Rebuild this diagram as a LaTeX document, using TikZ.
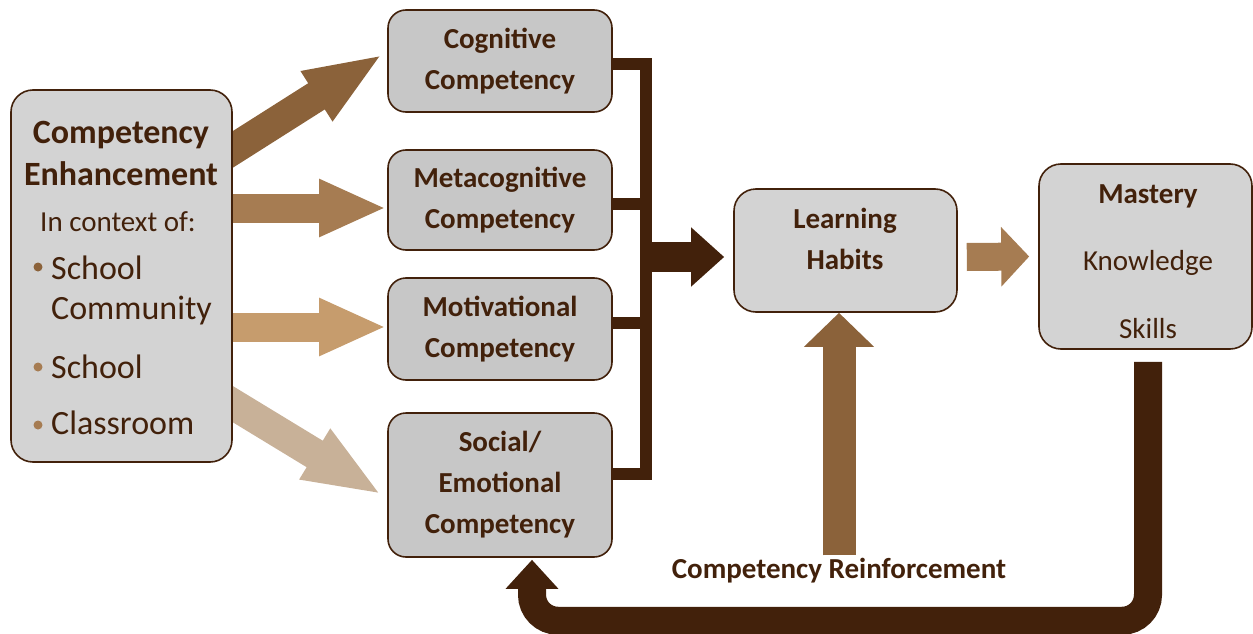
\documentclass[tikz,border=0pt]{standalone}
\usepackage{fontspec}
\setmainfont{Carlito}
\usetikzlibrary{arrows.meta,backgrounds}
\definecolor{darkbrown}{RGB}{66,33,11}
\definecolor{tanA}{RGB}{139,98,58}
\definecolor{tanB}{RGB}{166,124,82}
\definecolor{tanC}{RGB}{198,156,109}
\definecolor{tanD}{RGB}{200,177,152}
\definecolor{boxgray}{RGB}{211,211,211}
\definecolor{midgray}{RGB}{199,199,199}
\tikzstyle{midbox}=[draw=darkbrown,line width=1.6pt,fill=midgray,rounded corners=18pt,minimum width=224pt,align=center,text=darkbrown,font=\fontsize{29}{41}\selectfont\bfseries]
\tikzstyle{sidebox}=[draw=darkbrown,line width=1.6pt,fill=boxgray,rounded corners=22pt]
\tikzstyle{heading}=[text=darkbrown,align=center,inner sep=0pt,font=\fontsize{29}{41}\selectfont\bfseries]
\tikzstyle{bodytext}=[text=darkbrown,inner sep=0pt,font=\fontsize{29}{35}\selectfont]
\tikzstyle{listitem}=[text=darkbrown,inner sep=0pt,font=\fontsize{34}{40}\selectfont]
\tikzstyle{bracket}=[draw=darkbrown,line width=12.5pt]
\tikzstyle{diagarrow}=[draw,line width=31pt,-{Triangle[width=53pt,length=79pt]}]
\tikzstyle{flatarrow}=[draw,line width=29pt,-{Triangle[width=53pt,length=67pt]}]
\tikzstyle{bigarrow}=[draw=darkbrown,line width=30pt,-{Triangle[width=57pt,length=33pt]}]
\tikzstyle{nextarrow}=[draw=tanB,line width=28pt,-{Triangle[width=58pt,length=28pt]}]
\tikzstyle{reinfarrow}=[draw=tanA,line width=33pt,-{Triangle[width=68pt,length=34pt]}]
\tikzstyle{loopline}=[draw=darkbrown,line width=28pt,rounded corners=26pt,-{Triangle[width=51pt,length=29pt]}]

\begin{document}
\begin{tikzpicture}[x=1pt,y=-1pt]
    \useasboundingbox (0,0) rectangle (1253,634);
    % Left box with its context list
    \node[sidebox,minimum width=221pt,minimum height=372pt] (ce) at (121.5,276) {};
    \node[heading,font=\fontsize{34}{42}\selectfont\bfseries] (cetitle) at (121,153) {Competency\\Enhancement};
    \node[bodytext] (context) at (118,222) {In context of:};
    \foreach \y/\c in {267/tanA, 367/tanB, 425/tanB}
        \fill[\c] (38,\y) circle (4.5pt);
    \foreach \y/\txt in {279/School, 319/Community, 378/School, 434/Classroom}
        \node[listitem,anchor=base west] (item\y) at (51,\y) {\txt};

    % The four competencies
    \foreach \pos/\name/\h/\txt in {{(500,61)/cog/102/{Cognitive\\Competency}},
                                    {(500,200)/meta/100/{Metacognitive\\Competency}},
                                    {(500,329)/mot/102/{Motivational\\Competency}},
                                    {(500,485)/soc/144/{Social/\\Emotional\\Competency}}}
        \node[midbox,minimum height=\h pt] (\name) at \pos {\txt};

    % Learning habits and mastery
    \node[sidebox,minimum width=223pt,minimum height=123pt] (lh) at (845.5,250.5) {};
    \node[heading] (lhtext) at (845,239) {Learning\\Habits};
    \node[sidebox,minimum width=213pt,minimum height=185pt] (ms) at (1145.5,256.5) {};
    \node[heading,anchor=base] (mstitle) at (1148,203) {Mastery};
    \node[bodytext,anchor=base] (know) at (1148,270) {Knowledge};
    \node[bodytext,anchor=base] (skill) at (1148,338) {Skills};
    \node[heading] (reinf) at (839,571) {Competency Reinforcement};

    % End points of the connectors
    \coordinate (bar) at (646,0);
    \coordinate (s1) at ([yshift=-3pt]cog.east);
    \coordinate (s2) at ([yshift=-4pt]meta.east);
    \coordinate (s3) at ([yshift=6pt]mot.east);
    \coordinate (s4) at ([yshift=11pt]soc.east);
    \coordinate (cstart) at ([xshift=-17pt,yshift=-71pt]ce.north east);
    \coordinate (ctip) at ([xshift=-4pt,yshift=7pt]cog.west);
    \coordinate (sstart) at ([xshift=-17pt,yshift=69pt]ce.south east);
    \coordinate (stip) at ([xshift=-5pt,yshift=-10pt]soc.west);
    \coordinate (mtip) at ([xshift=-1pt,yshift=-8pt]meta.west);
    \coordinate (otip) at ([xshift=-1pt,yshift=2pt]mot.west);
    \coordinate (lhtip) at ([xshift=-9pt,yshift=-6.5pt]lh.west);
    \coordinate (msstart) at ([xshift=9pt,yshift=-6.5pt]lh.east);
    \coordinate (mstip) at ([xshift=-9pt]ms.west);
    \coordinate (loopstart) at ([xshift=2.5pt,yshift=-12pt]ms.south);
    \coordinate (looptip) at ([xshift=32pt,yshift=-2pt]soc.south);

    \begin{pgfonlayer}{background}
        % Arrows out of the left box
        \draw[diagarrow,tanA] (cstart) -- (ctip);
        \draw[flatarrow,tanB] (ce.east |- mtip) -- (mtip);
        \draw[flatarrow,tanC] (ce.east |- otip) -- (otip);
        \draw[diagarrow,tanD] (sstart) -- (stip);
        % Bracket joining the competencies
        \draw[bracket] (s1) -| (bar |- s4) -- (s4);
        \draw[bracket] (s2) -- (s2 -| bar);
        \draw[bracket] (s3) -- (s3 -| bar);
        \draw[bigarrow] (bar |- lhtip) -- (lhtip);
        \draw[nextarrow] (msstart) -- (mstip);
        \draw[reinfarrow] ([yshift=3pt]reinf.north) -- (reinf.north |- lh.south);
        \draw[loopline] (loopstart) |- ([yshift=-61pt]looptip) -- (looptip);
    \end{pgfonlayer}
\end{tikzpicture}
\end{document}
